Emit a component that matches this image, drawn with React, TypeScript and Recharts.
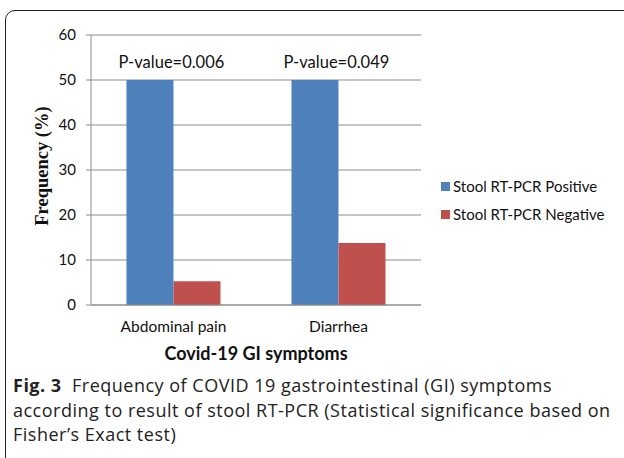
import React from 'react';
import { BarChart, Bar, XAxis, YAxis, CartesianGrid, LabelList } from 'recharts';

const categories = ['Abdominal pain', 'Diarrhea'];
const positive = [50, 50];
const negative = [5.3, 13.8];
const pValues = ['P-value=0.006', 'P-value=0.049'];
const yTicks = [0, 10, 20, 30, 40, 50, 60];
const seriesNames = ['Stool RT-PCR Positive', 'Stool RT-PCR Negative'];

const data = categories.map((name, i) => ({
  name,
  positive: positive[i],
  negative: negative[i],
  pValue: pValues[i],
}));

const BLUE = '#4F81BD';
const RED = '#C0504D';
const GRID = '#8c8c8c';
const FONT = 'Lato, "Open Sans", sans-serif';

const PLabel = (props: any) => {
  const { x, y, width, index } = props;
  return (
    <text
      x={x + width - 2}
      y={y - 18}
      textAnchor="middle"
      dominantBaseline="central"
      fontSize={16.5}
      fontFamily={FONT}
      fill="#111"
    >
      {pValues[index]}
    </text>
  );
};

export default function App() {
  const colors = [BLUE, RED];
  return (
    <div style={{ position: 'fixed', left: 0, top: 0, width: 624, height: 458, background: '#fff', overflow: 'hidden' }}>
      <div
        style={{
          position: 'absolute',
          left: 5,
          top: 10,
          width: 630,
          height: 470,
          border: '1px solid #222',
          borderRadius: 10,
          boxSizing: 'border-box',
        }}
      />
      <div style={{ position: 'absolute', left: 0, top: 0 }}>
        <BarChart
          width={624}
          height={370}
          data={data}
          margin={{ top: 35, right: 203, left: 31, bottom: 35 }}
          barGap={0}
          barCategoryGap="21.5%"
        >
          <CartesianGrid vertical={false} stroke={GRID} strokeWidth={1} />
          <XAxis
            dataKey="name"
            height={30}
            axisLine={{ stroke: GRID }}
            tickLine={false}
            tickSize={0}
            tickMargin={16}
            tick={{ fill: '#111', fontSize: 15.5, fontFamily: FONT }}
          />
          <YAxis
            width={60}
            domain={[0, 60]}
            ticks={yTicks}
            axisLine={{ stroke: GRID }}
            tickLine={{ stroke: GRID }}
            tickSize={5}
            tickMargin={10}
            tick={{ fill: '#111', fontSize: 15, fontFamily: FONT }}
          />
          <Bar dataKey="positive" name={seriesNames[0]} fill={BLUE} isAnimationActive={false}>
            <LabelList dataKey="pValue" content={<PLabel />} />
          </Bar>
          <Bar dataKey="negative" name={seriesNames[1]} fill={RED} isAnimationActive={false} />
        </BarChart>
      </div>
      {/* legend */}
      <div style={{ position: 'absolute', left: 441, top: 172, fontFamily: FONT, fontSize: 15, color: '#111' }}>
        {seriesNames.map((s, i) => (
          <div key={s} style={{ display: 'flex', alignItems: 'center', height: 28 }}>
            <span style={{ width: 9, height: 9, background: colors[i], marginRight: 3, display: 'inline-block' }} />
            <span>{s}</span>
          </div>
        ))}
      </div>
      <div
        style={{
          position: 'absolute',
          left: 42,
          top: 166,
          transform: 'translate(-50%, -50%) rotate(-90deg)',
          fontFamily: '"Liberation Serif", "Times New Roman", serif',
          fontWeight: 'bold',
          fontSize: 18.5,
          whiteSpace: 'nowrap',
          color: '#111',
        }}
      >
        Frequency (%)
      </div>
      <div
        style={{
          position: 'absolute',
          left: 256,
          top: 353,
          transform: 'translate(-50%, -50%)',
          fontFamily: FONT,
          fontWeight: 'bold',
          fontSize: 18,
          whiteSpace: 'nowrap',
          color: '#111',
        }}
      >
        Covid-19 GI symptoms
      </div>
      <div
        style={{
          position: 'absolute',
          left: 13,
          top: 373,
          width: 620,
          fontFamily: '"Open Sans", sans-serif',
          fontSize: 18,
          letterSpacing: 0.5,
          lineHeight: '24.5px',
          whiteSpace: 'nowrap',
          color: '#222',
        }}
      >
        <b>Fig. 3</b>&nbsp; Frequency of COVID 19 gastrointestinal (GI) symptoms
        <br />
        according to result of stool RT-PCR (Statistical significance based on
        <br />
        Fisher’s Exact test)
      </div>
    </div>
  );
}
